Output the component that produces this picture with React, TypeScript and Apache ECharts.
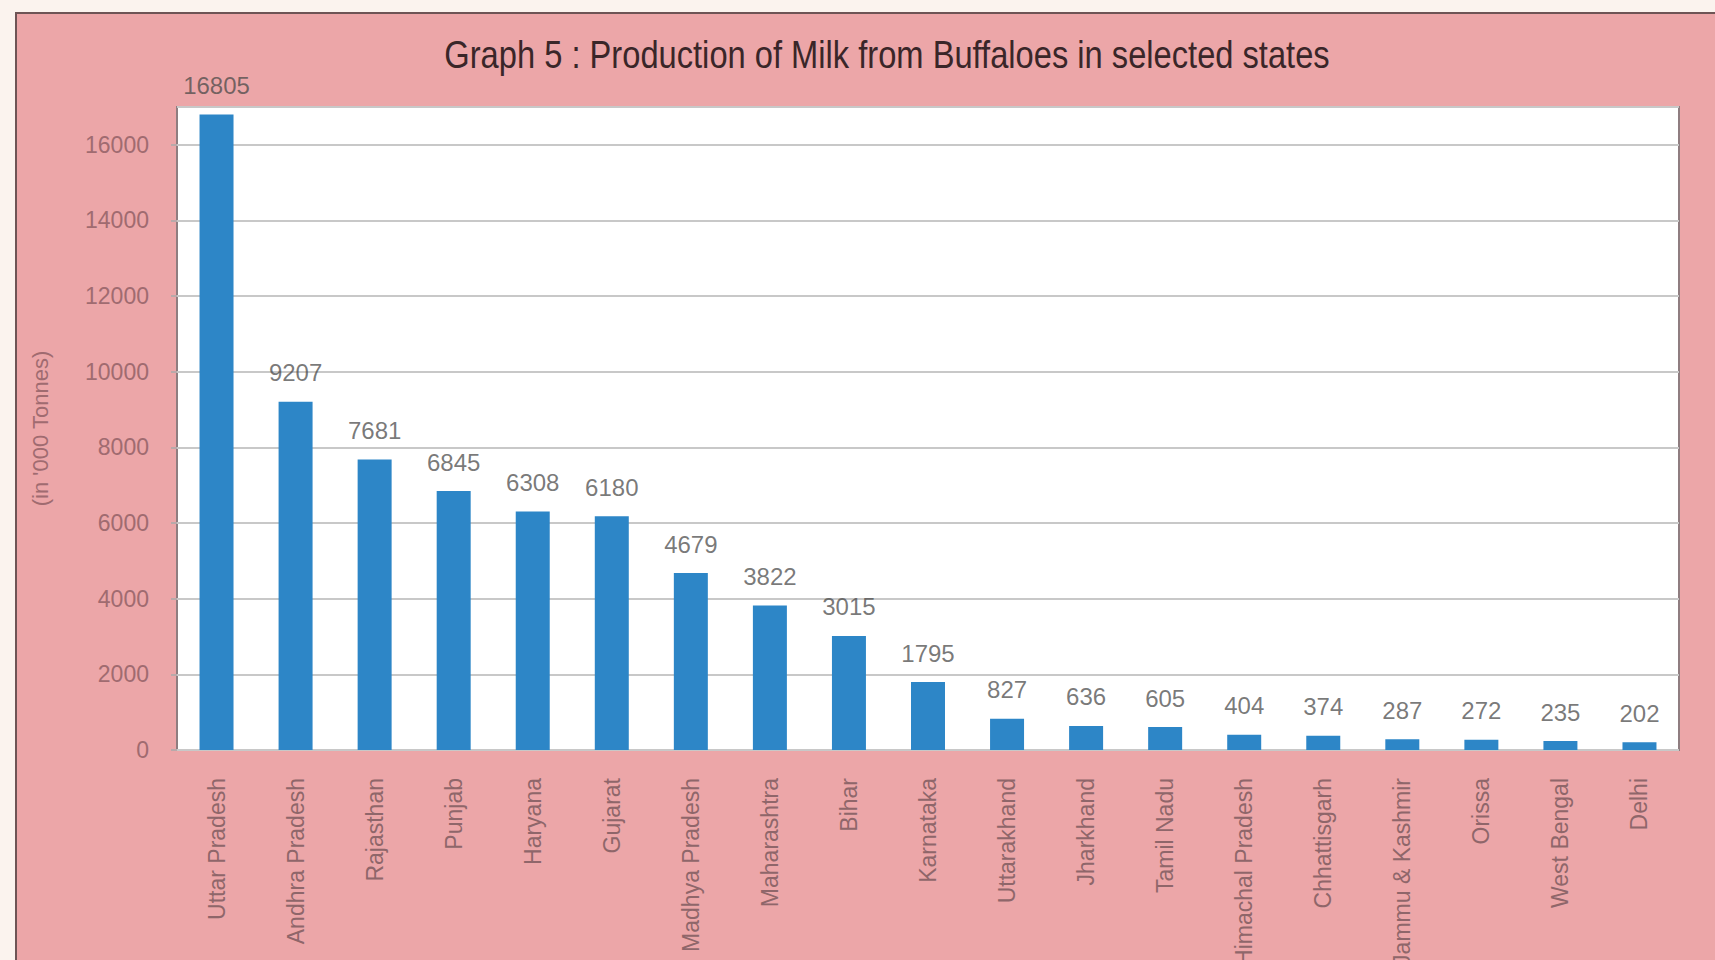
import React, { useEffect, useRef } from "react";
import * as echarts from "echarts";

const titleText = "Graph 5 : Production of Milk from Buffaloes in selected states";
const yAxisName = "(in '000 Tonnes)";
const states = [
  "Uttar Pradesh",
  "Andhra Pradesh",
  "Rajasthan",
  "Punjab",
  "Haryana",
  "Gujarat",
  "Madhya Pradesh",
  "Maharashtra",
  "Bihar",
  "Karnataka",
  "Uttarakhand",
  "Jharkhand",
  "Tamil Nadu",
  "Himachal Pradesh",
  "Chhattisgarh",
  "Jammu & Kashmir",
  "Orissa",
  "West Bengal",
  "Delhi",
];
const production = [16805, 9207, 7681, 6845, 6308, 6180, 4679, 3822, 3015, 1795, 827, 636, 605, 404, 374, 287, 272, 235, 202];
const yMin = 0;
const yMax = 17000;
const yStep = 2000;

export default function App() {
  const ref = useRef<HTMLDivElement>(null);
  useEffect(() => {
    if (!ref.current) return;
    const chart = echarts.init(ref.current, undefined, { renderer: "svg" });
    chart.setOption({
      animation: false,
      backgroundColor: "transparent",
      graphic: [
        {
          type: "text",
          x: 887,
          y: 55,
          scaleX: 0.86,
          silent: true,
          style: {
            text: titleText,
            fill: "#3a2629",
            font: "38px 'Liberation Sans', Arial, sans-serif",
            textAlign: "center",
            textVerticalAlign: "middle",
          },
        },
      ],
      grid: {
        left: 177,
        right: 36,
        top: 107,
        bottom: 210,
        show: true,
        backgroundColor: "#ffffff",
        borderColor: "#8f7d80",
        borderWidth: 2,
        containLabel: false,
        outerBoundsMode: "none",
      },
      xAxis: {
        type: "category",
        data: states,
        boundaryGap: true,
        axisLine: { show: false },
        axisTick: { show: false },
        axisLabel: {
          rotate: 90,
          interval: 0,
          margin: 28,
          fontSize: 23,
          color: "#8f666a",
          fontFamily: "'Liberation Sans', Arial, sans-serif",
        },
      },
      yAxis: {
        type: "value",
        min: yMin,
        max: yMax,
        interval: yStep,
        name: yAxisName,
        nameLocation: "middle",
        nameGap: 126,
        nameRotate: 90,
        nameTextStyle: {
          fontSize: 22,
          color: "#a06b70",
          fontFamily: "'Liberation Sans', Arial, sans-serif",
        },
        axisLine: { show: false },
        axisTick: { show: true, length: 6, lineStyle: { color: "#b9a9aa", width: 2 } },
        axisLabel: {
          showMaxLabel: false,
          margin: 28,
          fontSize: 23,
          color: "#a06b70",
          fontFamily: "'Liberation Sans', Arial, sans-serif",
          formatter: (v: number) => String(v),
        },
        splitLine: { show: true, lineStyle: { color: "#c8c8c8", width: 2 } },
      },
      series: [
        {
          type: "bar",
          data: production,
          barWidth: "43%",
          itemStyle: { color: "#2d86c7" },
          label: {
            show: true,
            position: "top",
            distance: 17,
            fontSize: 24,
            color: "rgba(70,70,70,0.72)",
            fontFamily: "'Liberation Sans', Arial, sans-serif",
          },
        },
      ],
    });
    return () => chart.dispose();
  }, []);

  return (
    <div style={{ position: "fixed", left: 0, top: 0, width: 1715, height: 960, background: "#fbf3ee", overflow: "hidden" }}>
      <div
        style={{
          position: "absolute",
          left: 15,
          top: 12,
          width: 1715,
          height: 960,
          background: "#eca6a8",
          borderLeft: "2px solid #6e5455",
          borderTop: "2px solid #6e5455",
        }}
      />
      <div ref={ref} style={{ position: "absolute", left: 0, top: 0, width: 1715, height: 960 }} />
    </div>
  );
}
